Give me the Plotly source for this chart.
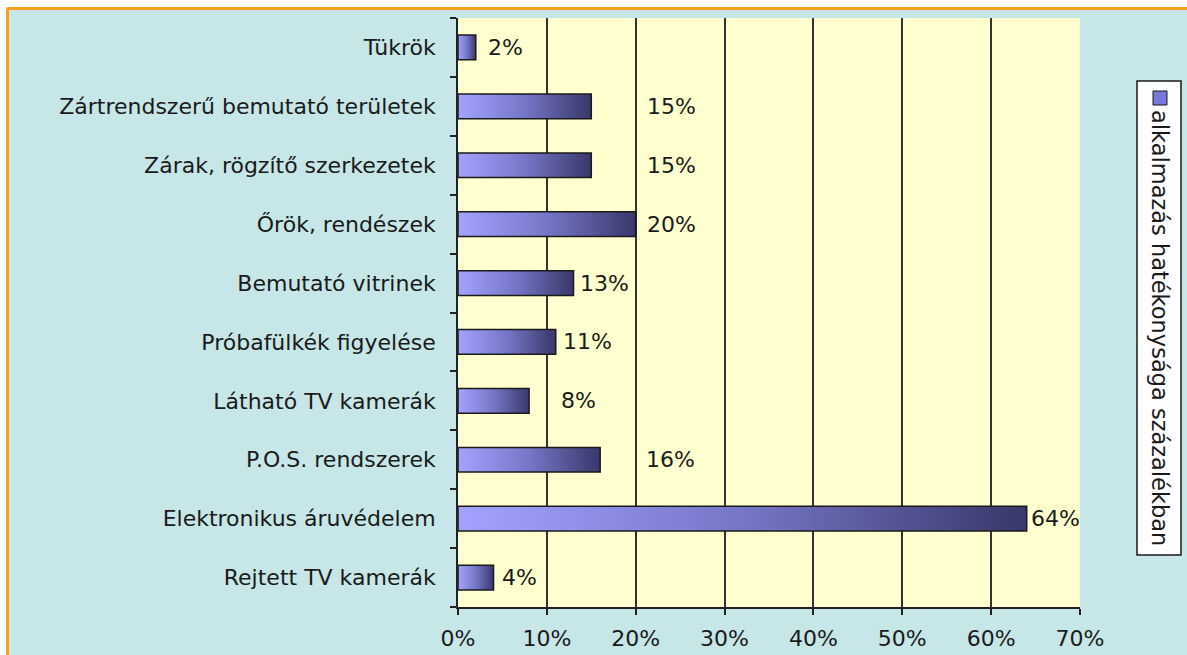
import plotly.graph_objects as go

# ---- data ----
categories = [
    "Tükrök",
    "Zártrendszerű bemutató területek",
    "Zárak, rögzítő szerkezetek",
    "Őrök, rendészek",
    "Bemutató vitrinek",
    "Próbafülkék figyelése",
    "Látható TV kamerák",
    "P.O.S. rendszerek",
    "Elektronikus áruvédelem",
    "Rejtett TV kamerák",
]
values = [2, 15, 15, 20, 13, 11, 8, 16, 64, 4]
series_name = "alkalmazás hatékonysága százalékban"
x_ticks = [0, 10, 20, 30, 40, 50, 60, 70]

# ---- style / layout ----
W, H = 1187, 655
ML, MR, MT, MB = 458, 107, 18, 48
PW, PH = W - ML - MR, H - MT - MB
FONT = "DejaVu Sans"
TXT = "#1a1a1a"
half = 0.21  # half bar thickness (category units)
label_shift = [10, 54, 54, 9, 4, 5, 30, 44, 2, 6]  # px offset of value labels


def px_x(p):
    return (p - ML) / PW


def px_y(p):
    return (H - MB - p) / PH


fig = go.Figure()

for i, (cat, v) in enumerate(zip(categories, values)):
    fig.add_trace(go.Scatter(
        x=[0, v, v, 0, 0],
        y=[i - half, i - half, i + half, i + half, i - half],
        mode="lines",
        fill="toself",
        fillgradient=dict(type="horizontal",
                          colorscale=[[0, "#a3a3ff"], [0.5, "#7676c8"], [1, "#38386a"]]),
        line=dict(color="#1a1a1a", width=1.5),
        name=series_name,
        hoveron="fills",
        text=f"{cat}: {v}%",
        hoverinfo="text",
        showlegend=False,
    ))

annotations = []
for i, v in enumerate(values):
    annotations.append(dict(
        x=v, y=i, xref="x", yref="y", text=f"{v}%", showarrow=False,
        xanchor="left", yanchor="middle", xshift=label_shift[i],
        font=dict(family=FONT, size=22, color=TXT),
    ))

# legend (rotated text)
annotations.append(dict(
    x=px_x(1160), y=px_y(328), xref="paper", yref="paper",
    text=series_name, textangle=90, showarrow=False,
    xanchor="center", yanchor="middle",
    font=dict(family=FONT, size=22.5, color=TXT),
))

shapes = [
    # white outer margin strips
    dict(type="rect", xref="paper", yref="paper", x0=px_x(-5), x1=px_x(1200),
         y0=px_y(7), y1=px_y(-5), fillcolor="white", line=dict(width=0), layer="above"),
    dict(type="rect", xref="paper", yref="paper", x0=px_x(-5), x1=px_x(6),
         y0=px_y(700), y1=px_y(-5), fillcolor="white", line=dict(width=0), layer="above"),
    # orange border
    dict(type="line", xref="paper", yref="paper", x0=px_x(7.5), x1=px_x(1200),
         y0=px_y(8.5), y1=px_y(8.5), line=dict(color="#f5a01e", width=3), layer="above"),
    dict(type="line", xref="paper", yref="paper", x0=px_x(7.5), x1=px_x(7.5),
         y0=px_y(8.5), y1=px_y(700), line=dict(color="#f5a01e", width=3), layer="above"),
    # legend box
    dict(type="rect", xref="paper", yref="paper", x0=px_x(1137), x1=px_x(1181),
         y0=px_y(555), y1=px_y(81), fillcolor="white",
         line=dict(color="#1a1a1a", width=1.5), layer="above"),
    dict(type="rect", xref="paper", yref="paper", x0=px_x(1153), x1=px_x(1167),
         y0=px_y(105), y1=px_y(91), fillcolor="#7878d8",
         line=dict(color="#1a1a1a", width=1), layer="above"),
]

fig.update_layout(
    width=W, height=H,
    margin=dict(l=ML, r=MR, t=MT, b=MB, pad=0, autoexpand=False),
    paper_bgcolor="#c6e6e7",
    plot_bgcolor="#ffffcf",
    showlegend=False,
    annotations=annotations,
    shapes=shapes,
    font=dict(family=FONT, size=22, color=TXT),
)

fig.update_xaxes(
    range=[0, 70], automargin=False,
    tickmode="array", tickvals=x_ticks, ticktext=[f"{t}%" for t in x_ticks],
    showgrid=True, gridcolor="#333333", gridwidth=1.8,
    zeroline=False,
    showline=True, linecolor="#222222", linewidth=1.8,
    ticks="outside", ticklen=6, tickcolor="#222222", tickwidth=1.5,
    ticklabelstandoff=5,
    tickfont=dict(family=FONT, size=22, color=TXT),
    fixedrange=True,
)

fig.update_yaxes(
    range=[len(categories) - 0.5, -0.5], automargin=False,
    tickmode="array", tickvals=list(range(len(categories))), ticktext=categories,
    ticks="", showgrid=False, zeroline=False,
    showline=True, linecolor="#222222", linewidth=1.8,
    minor=dict(tickmode="array", tickvals=[i - 0.5 for i in range(len(categories) + 1)],
               ticks="outside", ticklen=6, tickcolor="#222222", tickwidth=1.5,
               showgrid=False),
    ticklabelstandoff=16,
    tickfont=dict(family=FONT, size=22, color=TXT),
    fixedrange=True,
)

fig.write_html("out.html")
